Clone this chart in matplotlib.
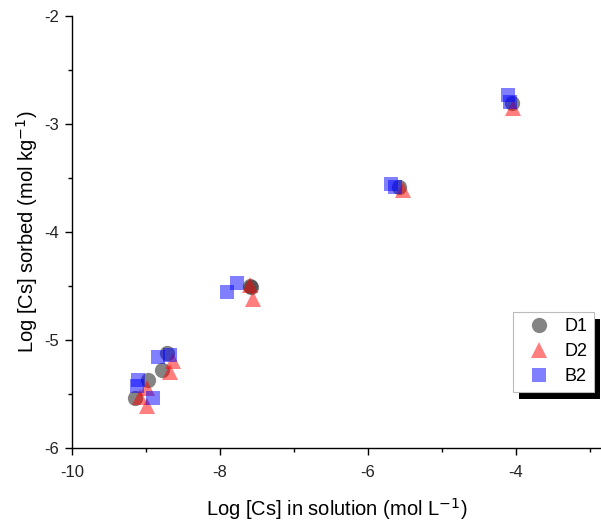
import matplotlib.pyplot as plt
from matplotlib.patches import Rectangle

plt.rcParams['font.family'] = ['Liberation Sans', 'DejaVu Sans']
plt.rcParams['axes.unicode_minus'] = False

# (log units)
d1_x = [-4.05, -5.58, -7.58, -7.60, -8.72, -8.78, -8.97, -9.15]
d1_y = [-2.81, -3.58, -4.51, -4.50, -5.12, -5.28, -5.37, -5.54]
d2_x = [-4.04, -5.53, -7.60, -7.55, -8.64, -8.68, -8.99, -9.08, -8.99]
d2_y = [-2.85, -3.61, -4.49, -4.62, -5.19, -5.30, -5.44, -5.53, -5.61]
b2_x = [-4.11, -4.08, -5.69, -5.64, -7.91, -7.77, -8.68, -8.84, -9.11, -9.12, -8.91]
b2_y = [-2.73, -2.80, -3.56, -3.58, -4.56, -4.47, -5.14, -5.16, -5.37, -5.43, -5.54]

fig = plt.figure(figsize=(6.01, 5.23), dpi=100)
ax = fig.add_axes([0.1198, 0.1434, 0.8802, 0.826])
ax.set_facecolor('none')

ax.plot(d1_x, d1_y, 'o', color='#333333', alpha=0.6, markersize=11, markeredgewidth=0, label='D1')
ax.plot(d2_x, d2_y, '^', color='red', alpha=0.5, markersize=12, markeredgewidth=0, label='D2')
ax.plot(b2_x, b2_y, 's', color='blue', alpha=0.5, markersize=9.5, markeredgewidth=0, label='B2')

ax.set_xlim(-10, -2.85)
ax.set_ylim(-6, -2)
ax.set_xticks([-10, -8, -6, -4])
ax.set_xticks([-9, -7, -5, -3], minor=True)
ax.set_yticks([-6, -5, -4, -3, -2])
ax.set_yticks([-5.5, -4.5, -3.5, -2.5], minor=True)
ax.tick_params(which='major', direction='out', length=5, width=1, labelsize=12,
               labelcolor='#222222')
ax.tick_params(axis='x', which='major', pad=7)
ax.tick_params(axis='y', which='major', pad=4)
ax.tick_params(which='minor', direction='out', length=3, width=1)
for s in ['top', 'right']:
    ax.spines[s].set_visible(False)
for s in ['left', 'bottom']:
    ax.spines[s].set_linewidth(1)

ax.set_xlabel('Log [Cs] in solution (mol L$^{-1}$)', fontsize=14.5, labelpad=12)
ax.set_ylabel('Log [Cs] sorbed (mol kg$^{-1}$)', fontsize=14.5, labelpad=3)

leg = ax.legend(loc='upper left', bbox_to_anchor=(0.834, 0.315), fontsize=13, fancybox=False,
                edgecolor='#bbbbbb', framealpha=1, handletextpad=0.3, borderpad=0.35,
                labelspacing=0.45, handlelength=2.2, borderaxespad=0)
leg.get_frame().set_linewidth(0.8)

# black drop shadow behind the legend
fig.canvas.draw()
bb = leg.get_window_extent()
fig.add_artist(Rectangle((bb.x0 + 6, bb.y0 - 7), bb.width, bb.height, transform=None,
                         facecolor='black', edgecolor='none', zorder=-1))

fig.savefig('out.png', dpi=100)
